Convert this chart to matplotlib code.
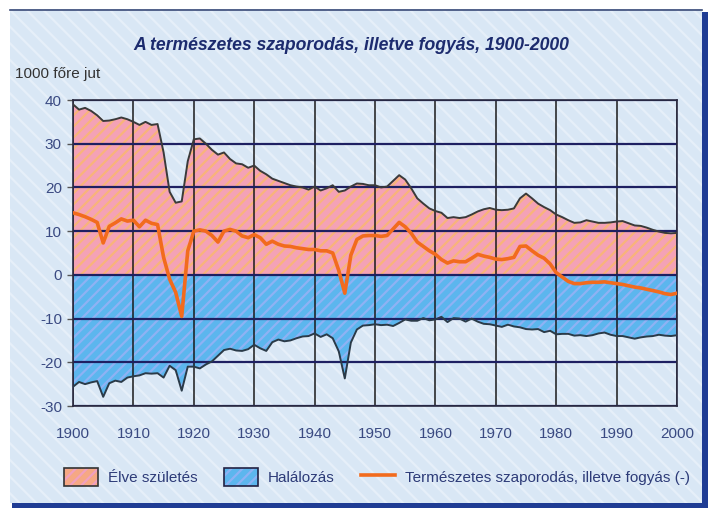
import numpy as np
import matplotlib
matplotlib.use("Agg")
import matplotlib.pyplot as plt
from matplotlib.patches import Rectangle, Patch
from matplotlib.lines import Line2D
from matplotlib import font_manager as fm

# ---------------- data (per 1000 inhabitants) ----------------
years = list(range(1900, 2001))

births = [39.0, 37.8, 38.2, 37.5, 36.5, 35.2, 35.3, 35.6, 36.0, 35.6,
          35.0, 34.3, 35.0, 34.3, 34.5, 28.0, 19.0, 16.5, 16.8, 26.0,
          31.0, 31.2, 30.0, 28.6, 27.5, 28.0, 26.5, 25.5, 25.3, 24.5,
          25.0, 23.8, 23.0, 22.0, 21.5, 21.0, 20.5, 20.2, 20.0, 19.5,
          20.2, 19.3, 19.8, 20.5, 19.0, 19.3, 20.2, 20.9, 20.8, 20.5,
          20.5, 20.0, 20.2, 21.5, 22.8, 21.8, 19.8, 17.5, 16.3, 15.2,
          14.6, 14.2, 13.0, 13.2, 13.0, 13.2, 13.8, 14.5, 15.0, 15.3,
          14.9, 14.8, 14.9, 15.2, 17.5, 18.6, 17.5, 16.3, 15.5, 14.8,
          13.8, 13.2, 12.5, 11.9, 12.0, 12.5, 12.2, 11.9, 11.9, 12.0,
          12.2, 12.3, 11.8, 11.3, 11.2, 10.8, 10.3, 9.9, 9.6, 9.5,
          9.6]

deaths = [-25.6, -24.5, -25.0, -24.6, -24.3, -27.9, -24.8, -24.2, -24.5, -23.5,
          -23.2, -23.0, -22.5, -22.6, -22.5, -23.5, -20.8, -21.8, -26.5, -21.0,
          -21.0, -21.4, -20.5, -19.8, -18.5, -17.2, -16.9, -17.3, -17.4, -17.0,
          -16.0, -16.8, -17.4, -15.4, -14.8, -15.2, -15.0, -14.5, -14.1, -14.0,
          -13.4, -14.2, -13.6, -14.5, -17.5, -23.7, -15.5, -12.5, -11.6, -11.5,
          -11.3, -11.5, -11.4, -11.7, -11.0, -10.2, -10.5, -10.5, -9.9, -10.4,
          -10.2, -9.6, -10.8, -9.9, -10.0, -10.7, -10.0, -10.7, -11.2, -11.3,
          -11.6, -11.9, -11.4, -11.8, -12.0, -12.4, -12.5, -12.4, -13.1, -12.8,
          -13.6, -13.5, -13.5, -13.9, -13.8, -14.0, -13.8, -13.4, -13.2, -13.7,
          -14.0, -14.0, -14.3, -14.6, -14.3, -14.1, -14.0, -13.7, -13.9, -14.0,
          -13.8]

natural = [14.2, 13.8, 13.3, 12.7, 12.0, 7.3, 11.1, 11.9, 12.8, 12.3,
           12.5, 11.0, 12.5, 11.8, 11.5, 4.0, -1.0, -4.0, -9.5, 5.5,
           10.0, 10.3, 10.0, 9.0, 7.5, 10.0, 10.4, 10.0, 8.9, 8.5,
           9.2, 8.5, 7.0, 7.7, 7.0, 6.6, 6.5, 6.2, 6.0, 5.8,
           5.8, 5.5, 5.5, 5.0, 1.0, -4.2, 4.5, 8.1, 8.9, 9.0,
           9.0, 8.8, 9.0, 10.5, 12.0, 11.0, 9.5, 7.5, 6.5, 5.5,
           4.7, 3.5, 2.7, 3.2, 3.0, 3.0, 3.8, 4.7, 4.3, 4.0,
           3.6, 3.5, 3.7, 4.0, 6.5, 6.6, 5.5, 4.5, 3.8, 2.5,
           0.5, -0.5, -1.5, -2.0, -2.0, -1.8, -1.7, -1.7, -1.6, -1.8,
           -2.0, -2.2, -2.5, -2.8, -3.0, -3.3, -3.6, -3.9, -4.3, -4.5,
           -4.2]

x_ticks = list(range(1900, 2001, 10))
y_ticks = list(range(-30, 41, 10))

title = "A természetes szaporodás, illetve fogyás, 1900-2000"
unit_label = "1000 főre jut"
legend_labels = ["Élve születés", "Halálozás",
                 "Természetes szaporodás, illetve fogyás (-)"]

# ---------------- fonts ----------------
names = {f.name for f in fm.fontManager.ttflist}
REG = "Liberation Sans" if "Liberation Sans" in names else "DejaVu Sans"
NARROW = "Liberation Sans Narrow" if "Liberation Sans Narrow" in names else None

plt.rcParams["hatch.linewidth"] = 1.6
plt.rcParams["axes.unicode_minus"] = False

W, H = 708, 508
fig = plt.figure(figsize=(W / 100, H / 100), dpi=100, facecolor="white")


def fx(px):
    return px / W


def fy(py):
    return 1 - py / H


# card background + shadow
fig.patches.append(Rectangle((fx(12), 0), fx(708) - fx(12), fy(503), transform=fig.transFigure,
                             facecolor="#1f3c94", edgecolor="none", zorder=-3))
fig.patches.append(Rectangle((fx(702), 0), fx(708) - fx(702), fy(12), transform=fig.transFigure,
                             facecolor="#1f3c94", edgecolor="none", zorder=-3))
fig.patches.append(Rectangle((fx(10), fy(503)), fx(702) - fx(10), fy(9) - fy(503),
                             transform=fig.transFigure, facecolor="#d9e7f5",
                             edgecolor="#e6eff9", linewidth=0, hatch="\\\\", zorder=-2))
fig.lines.append(Line2D([fx(10), fx(702)], [fy(9.5), fy(9.5)], transform=fig.transFigure,
                        color="#3a4a78", linewidth=1.2))

ax = fig.add_axes([fx(73), fy(406), fx(677) - fx(73), fy(100) - fy(406)])
ax.set_facecolor("none")

ax.fill_between(years, 0, births, facecolor="#f4a2b6", edgecolor="#f8b47a",
                linewidth=0, hatch="///", zorder=1)
ax.fill_between(years, deaths, 0, facecolor="#5cb6ee", edgecolor="#8eb2f4",
                linewidth=0, hatch="///", zorder=1)

ax.plot(years, births, color="#3a3a3a", linewidth=1.4, zorder=3)
ax.plot(years, deaths, color="#2a3a48", linewidth=1.4, zorder=3)
ax.plot(years, natural, color="#f26b1d", linewidth=2.6, zorder=4,
        solid_joinstyle="round")

ax.set_xlim(1900, 2000)
ax.set_ylim(-30, 40)
ax.set_xticks(x_ticks)
ax.set_yticks(y_ticks)
ax.set_axisbelow(False)
ax.yaxis.grid(True, color="#1e2062", linewidth=1.6)
ax.xaxis.grid(True, color="#1a1a1a", linewidth=1.1)
for s in ax.spines.values():
    s.set_color("#2a2a40")
    s.set_linewidth(1.2)
    s.set_zorder(2.6)

tick_color = "#3a4a82"
ax.tick_params(axis="x", length=0, pad=15, labelsize=11, labelcolor=tick_color)
ax.tick_params(axis="y", length=4, width=1, color="#555555", pad=4,
               labelsize=11, labelcolor=tick_color)
for lab in ax.get_xticklabels() + ax.get_yticklabels():
    lab.set_fontfamily(REG)

# title
if NARROW:
    fig.text(fx(351.5), fy(45), title, ha="center", va="center", fontsize=14,
             fontweight="bold", fontstyle="italic", family=NARROW, color="#1c2b6e")
else:
    fig.text(fx(351.5), fy(45), title, ha="center", va="center", fontsize=12.7,
             fontweight="bold", fontstyle="italic", family=REG, color="#1c2b6e")

fig.text(fx(15), fy(74), unit_label, ha="left", va="center", fontsize=11,
         family=REG, color="#333333")

# legend
h_birth = (Patch(facecolor="#f6a884", edgecolor="#f0a0c0", linewidth=0, hatch="///"),
           Patch(facecolor="none", edgecolor="#333333", linewidth=1.2))
h_death = (Patch(facecolor="#5cb6ee", edgecolor="#8eb2f4", linewidth=0, hatch="///"),
           Patch(facecolor="none", edgecolor="#222244", linewidth=1.2))
h_nat = Line2D([], [], color="#f26b1d", linewidth=2.6)

leg = fig.legend([h_birth, h_death, h_nat], legend_labels, loc="center",
                 bbox_to_anchor=(fx(377), fy(477)), ncol=3, frameon=False,
                 prop={"family": REG, "size": 11}, handlelength=2.2, handleheight=1.4,
                 handletextpad=0.65, columnspacing=1.75, borderaxespad=0)
for t in leg.get_texts():
    t.set_color("#2d3b78")

fig.savefig("out.png", dpi=100, facecolor="white")
